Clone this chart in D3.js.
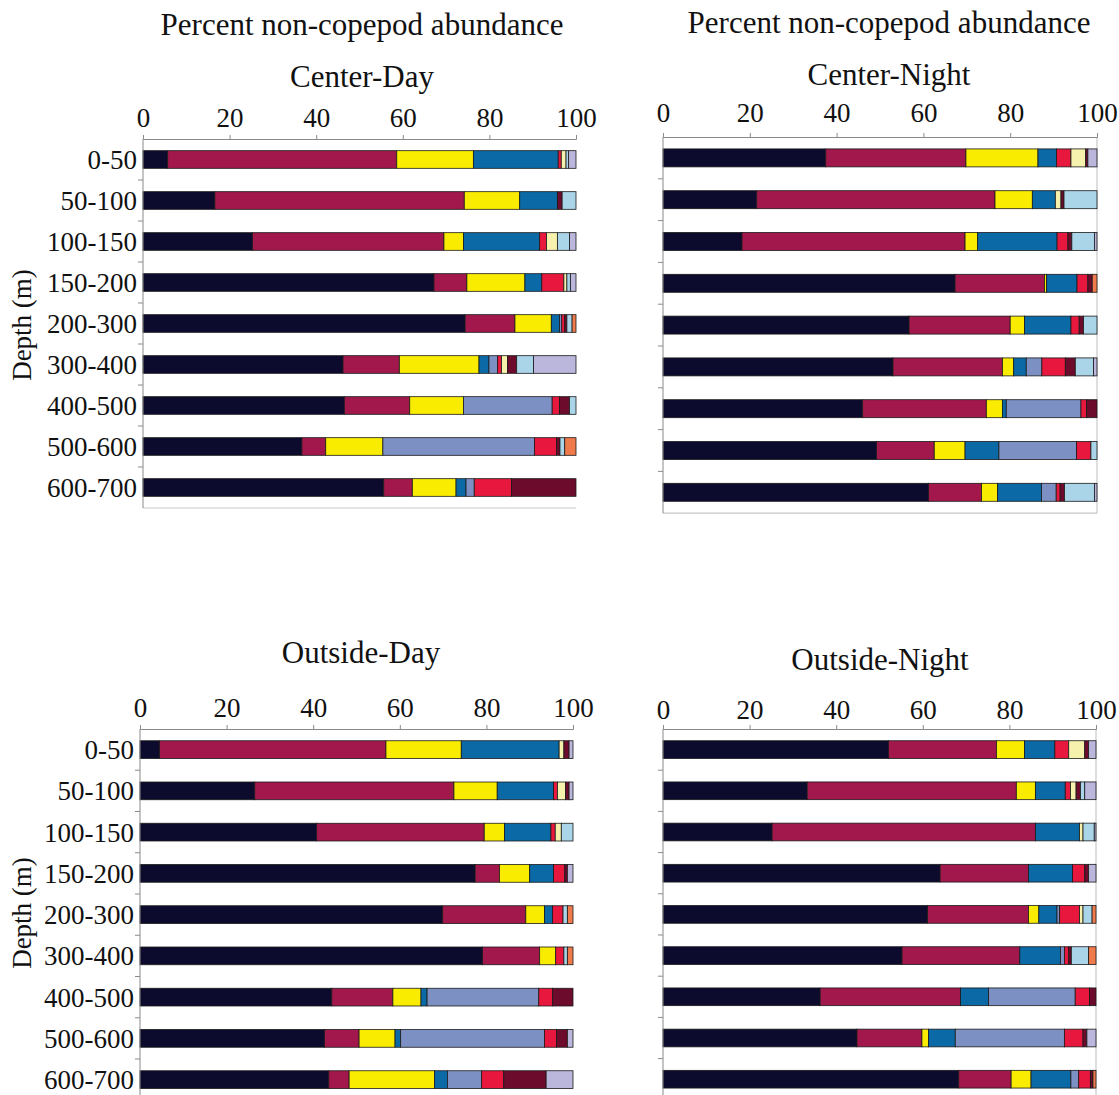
<!DOCTYPE html>
<html>
<head>
<meta charset="utf-8">
<script src="https://cdn.jsdelivr.net/npm/d3@7"></script>
<style>
  html, body { margin: 0; padding: 0; background: #fff; }
  svg { display: block; }
  text { font-family: "Liberation Serif", "Times New Roman", serif; fill: #111; }
</style>
</head>
<body>
<svg id="chart" width="1119" height="1095"></svg>
<script>
// Depth strata (m), top to bottom
const depths = ["0-50", "50-100", "100-150", "150-200", "200-300", "300-400", "400-500", "500-600", "600-700"];

// Stacking order of the non-copepod groups
const groups = ["g1", "g2", "g3", "g4", "g5", "g6", "g7", "g8", "g9", "g10", "g11"];
const groupColors = ["#0c0b2e", "#a2184c", "#f9ec00", "#0b69a6", "#7d90c3", "#e8173d",
                     "#f6f2ad", "#6c0b2b", "#aad4e8", "#bab6dc", "#ef7a4b"];

const tickValues = [0, 20, 40, 60, 80, 100];

// Percent composition per depth stratum (columns follow `groups`)
const centerDay = [
  [5.7, 52.9, 17.7, 19.6, 0, 0.7, 1.1, 0, 0.6, 1.7, 0],
  [16.6, 57.6, 12.8, 8.7, 0, 0, 0, 1.1, 3.2, 0, 0],
  [25.3, 44.2, 4.5, 17.6, 0, 1.6, 2.5, 0, 2.8, 1.5, 0],
  [67.2, 7.6, 13.4, 3.9, 0, 5.1, 0.7, 0, 0.8, 1.3, 0],
  [74.4, 11.5, 8.4, 1.9, 0.5, 0.7, 0, 0.5, 1.2, 0, 0.9],
  [46.2, 13.0, 18.4, 2.3, 2.0, 0.9, 1.4, 2.1, 3.9, 9.8, 0],
  [46.5, 15.1, 12.4, 0, 20.5, 1.7, 0, 2.3, 1.5, 0, 0],
  [36.7, 5.5, 13.2, 0, 35.0, 5.1, 0, 0.8, 1.1, 0, 2.6],
  [55.6, 6.6, 10.1, 2.3, 1.9, 8.6, 0, 14.9, 0, 0, 0]
];

const centerNight = [
  [37.5, 32.3, 16.6, 4.3, 0, 3.3, 3.4, 0.5, 0, 2.1, 0],
  [21.6, 54.9, 8.6, 5.3, 0, 0, 1.3, 0.7, 7.6, 0, 0],
  [18.2, 51.4, 2.9, 18.3, 0, 2.5, 0, 0.9, 5.2, 0.6, 0],
  [67.3, 20.6, 0.5, 7.0, 0, 2.5, 0, 1.0, 0, 0, 1.1],
  [56.7, 23.3, 3.3, 10.7, 0, 1.9, 0, 1.0, 3.1, 0, 0],
  [53.0, 25.2, 2.6, 2.9, 3.6, 5.4, 0, 2.3, 4.2, 0.8, 0],
  [46.0, 28.5, 3.7, 0.9, 17.2, 1.3, 0, 2.4, 0, 0, 0],
  [49.2, 13.3, 7.1, 7.8, 17.9, 3.3, 0, 0, 1.4, 0, 0],
  [61.2, 12.2, 3.7, 10.1, 3.4, 0.9, 0, 1.0, 6.9, 0.6, 0]
];

const outsideDay = [
  [4.5, 52.3, 17.4, 22.6, 0, 0, 1.1, 1.2, 0, 0.9, 0],
  [26.5, 46.0, 10.0, 13.0, 0, 0.9, 1.9, 0.8, 0, 0.9, 0],
  [40.8, 38.7, 4.7, 10.7, 0, 1.0, 1.4, 0, 2.7, 0, 0],
  [77.4, 5.6, 7.0, 5.5, 0, 2.6, 0, 0.6, 0, 1.3, 0],
  [69.9, 19.2, 4.3, 1.9, 0, 2.4, 0, 0, 1.0, 0, 1.3],
  [79.1, 13.2, 3.7, 0, 0, 1.9, 0, 0, 0.8, 0, 1.3],
  [44.3, 14.1, 6.5, 1.4, 25.8, 3.2, 0, 4.7, 0, 0, 0],
  [42.6, 8.0, 8.3, 1.3, 33.2, 2.8, 0, 2.5, 0, 1.3, 0],
  [43.6, 4.7, 19.7, 3.0, 7.9, 5.1, 0, 9.8, 0, 6.2, 0]
];

const outsideNight = [
  [52.1, 24.9, 6.5, 7.0, 0, 3.2, 3.7, 0.9, 0, 1.7, 0],
  [33.3, 48.3, 4.4, 6.9, 0, 1.2, 1.3, 1.0, 1.0, 2.6, 0],
  [25.2, 60.8, 0, 10.2, 0, 0, 0.8, 0, 2.6, 0.4, 0],
  [64.0, 20.4, 0, 10.2, 0, 2.8, 0, 0.9, 0, 1.7, 0],
  [61.1, 23.3, 2.4, 4.2, 0.6, 4.6, 0.8, 0, 2.1, 0, 0.9],
  [55.2, 27.2, 0, 9.4, 0.9, 1.0, 0, 0.6, 4.0, 0, 1.7],
  [36.3, 32.4, 0, 6.5, 20.0, 3.3, 0, 1.5, 0, 0, 0],
  [44.8, 15.0, 1.5, 6.2, 25.2, 4.3, 0, 0.9, 0, 2.1, 0],
  [68.3, 12.1, 4.6, 9.2, 1.8, 2.7, 0, 0.6, 0, 0, 0.7]
];

// Panel layout
const panels = [
  { data: centerDay, supTitle: "Percent non-copepod abundance", supY: 35, title: "Center-Day", titleY: 87, titleX: 362,
    x0: 143, x1: 576, top: 139, step: 41, tickGap: 12, depthLabels: true, depthTitleY: 325, frame: false },
  { data: centerNight, supTitle: "Percent non-copepod abundance", supY: 33, title: "Center-Night", titleY: 85, titleX: 889,
    x0: 663, x1: 1097, top: 137, step: 41.8, tickGap: 15, depthLabels: false, frame: true },
  { data: outsideDay, supTitle: null, title: "Outside-Day", titleY: 663, titleX: 361,
    x0: 140, x1: 573, top: 729, step: 41.25, tickGap: 12, depthLabels: true, depthTitleY: 913, frame: false },
  { data: outsideNight, supTitle: null, title: "Outside-Night", titleY: 670, titleX: 880,
    x0: 663, x1: 1096, top: 729, step: 41.2, tickGap: 10, depthLabels: false, frame: true }
];

const svg = d3.select("#chart");
const stack = d3.stack().keys(groups);

panels.forEach(p => {
  const g = svg.append("g");
  const rows = p.data.map((vals, i) => {
    const o = { depth: depths[i] };
    groups.forEach((k, j) => { o[k] = vals[j]; });
    return o;
  });
  const series = stack(rows);

  const x = d3.scaleLinear().domain([0, 100]).range([p.x0, p.x1]);
  const bottom = p.top + p.step * depths.length;
  const y = d3.scaleBand().domain(depths).range([p.top, bottom])
    .paddingInner(0.57).paddingOuter(0.285);

  if (p.supTitle) {
    g.append("text").attr("x", p.titleX).attr("y", p.supY).attr("text-anchor", "middle")
      .style("font-size", "31px").text(p.supTitle);
  }
  g.append("text").attr("x", p.titleX).attr("y", p.titleY).attr("text-anchor", "middle")
    .style("font-size", "31px").text(p.title);

  // Plot-area frame lines (right and bottom)
  g.append("line").attr("x1", p.x0).attr("x2", p.x1).attr("y1", bottom).attr("y2", bottom)
    .attr("stroke", "#c8c8c8").attr("stroke-width", 1.2);
  if (p.frame) {
    g.append("line").attr("x1", p.x1).attr("x2", p.x1).attr("y1", p.top).attr("y2", bottom)
      .attr("stroke", "#c8c8c8").attr("stroke-width", 1.2);
  }

  // Stacked bars
  g.append("g").selectAll("g").data(series).join("g")
    .attr("fill", (s, i) => groupColors[i])
    .selectAll("rect").data(s => s.filter(d => d[1] - d[0] > 0)).join("rect")
    .attr("x", d => x(d[0]))
    .attr("width", d => x(d[1]) - x(d[0]))
    .attr("y", d => y(d.data.depth))
    .attr("height", y.bandwidth())
    .attr("stroke", "#1a1a1a").attr("stroke-width", 0.8);

  // Top percent axis
  const ax = g.append("g").attr("transform", `translate(0,${p.top})`)
    .call(d3.axisTop(x).tickValues(tickValues).tickSize(4).tickPadding(p.tickGap - 4));
  ax.attr("font-family", null);
  ax.select(".domain").attr("stroke", "#8a8a8a");
  ax.selectAll(".tick line").attr("stroke", "#8a8a8a");
  ax.selectAll(".tick text").style("font-size", "27px")
    .style("font-family", "'Liberation Serif', 'Times New Roman', serif").attr("fill", "#111");

  // Left depth axis with ticks at stratum boundaries
  const ay = g.append("g").attr("transform", `translate(${p.x0},0)`);
  ay.append("line").attr("x1", 0).attr("x2", 0).attr("y1", p.top).attr("y2", bottom)
    .attr("stroke", "#8a8a8a");
  ay.selectAll("line.bt").data(d3.range(1, depths.length)).join("line").attr("class", "bt")
    .attr("x1", -5).attr("x2", 0)
    .attr("y1", i => p.top + i * p.step).attr("y2", i => p.top + i * p.step)
    .attr("stroke", "#8a8a8a");

  if (p.depthLabels) {
    ay.selectAll("text.dl").data(depths).join("text").attr("class", "dl")
      .attr("x", -6).attr("y", d => y(d) + y.bandwidth() / 2)
      .attr("dy", "0.35em").attr("text-anchor", "end")
      .style("font-size", "27px").text(d => d);
    svg.append("text")
      .attr("transform", `translate(31,${p.depthTitleY}) rotate(-90)`)
      .attr("text-anchor", "middle").style("font-size", "27px").text("Depth (m)");
  }
});
</script>
</body>
</html>
